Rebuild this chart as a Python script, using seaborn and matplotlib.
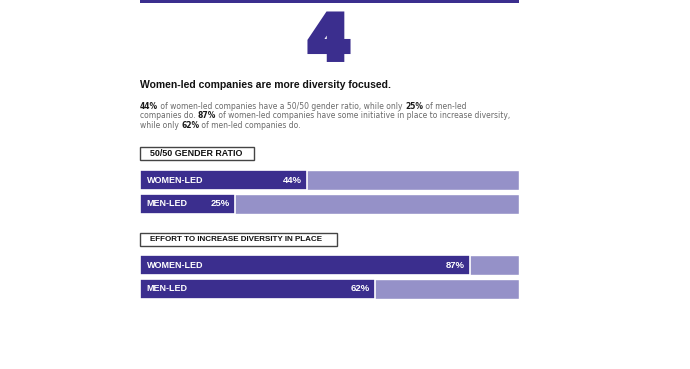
import matplotlib
matplotlib.use("Agg")
import matplotlib.pyplot as plt
import matplotlib.patheffects as pe
import seaborn as sns
import pandas as pd
from matplotlib.patches import Rectangle

sns.set_theme(style="white")
plt.rcParams['font.family'] = ['Liberation Sans', 'DejaVu Sans']

# ---- data ----
groups = ["WOMEN-LED", "MEN-LED"]
gender_ratio = [44, 25]
diversity_effort = [87, 62]
total = [100, 100]
section_titles = ["50/50 GENDER RATIO", "EFFORT TO INCREASE DIVERSITY IN PLACE"]
big_number = "4"
headline = "Women-led companies are more diversity focused."
para_lines = [
    [("44%", True), (" of women-led companies have a 50/50 gender ratio, while only ", False), ("25%", True), (" of men-led", False)],
    [("companies do. ", False), ("87%", True), (" of women-led companies have some initiative in place to increase diversity,", False)],
    [("while only ", False), ("62%", True), (" of men-led companies do.", False)],
]

DARK = "#3b2e8e"
LIGHT = "#9591c8"
W, H = 690, 369
fig = plt.figure(figsize=(W / 100, H / 100), dpi=100)
fig.patch.set_facecolor("white")
renderer = fig.canvas.get_renderer()


def fit(t, target_w):
    """Scale a text's font size so that it spans target_w pixels."""
    bb = t.get_window_extent(renderer=renderer)
    t.set_fontsize(t.get_fontsize() * target_w / bb.width)
    return t


# overlay axes in pixel coordinates
ov = fig.add_axes([0, 0, 1, 1])
ov.set_xlim(0, W)
ov.set_ylim(H, 0)
ov.axis("off")

# top rule
ov.add_patch(Rectangle((140, 0), 379, 2.5, color=DARK, lw=0))
# big number
ov.text(329, 58.5, big_number, ha="center", va="baseline", fontsize=43,
        fontweight="bold", color=DARK, family="DejaVu Sans",
        path_effects=[pe.Stroke(linewidth=5, foreground=DARK, joinstyle="miter"),
                      pe.Normal()])
# headline
fit(ov.text(140, 85, headline, ha="left", va="center", fontsize=8,
            fontweight="bold", color="#111111"), 253)

# paragraph with inline bold
ys = [106.5, 116, 125.5]
para_fs = 6.0
chains = []
for y, pieces in zip(ys, para_lines):
    prev = None
    arts = []
    for txt, bold in pieces:
        kw = dict(fontsize=para_fs, color="#1a1a1a" if bold else "#6a6a6a",
                  fontweight="bold" if bold else "normal", va="center", ha="left",
                  family="DejaVu Sans")
        if prev is None:
            prev = ov.text(140, y, txt, **kw)
        else:
            prev = ov.annotate(txt, xy=(1, 0.5), xycoords=prev, **kw)
        arts.append(prev)
    chains.append(arts)
fig.canvas.draw()
line2 = chains[1]
x0 = line2[0].get_window_extent(renderer).x0
x1 = line2[-1].get_window_extent(renderer).x1
scale = 371 / (x1 - x0)
for arts in chains:
    for a in arts:
        a.set_fontsize(para_fs * scale)


def section(title, box_w, title_w, box_y, bar_top, values):
    ov.add_patch(Rectangle((140, box_y), box_w, 13, fc="white", ec="#444444", lw=1))
    fit(ov.text(150.5, box_y + 6.8, title, ha="left", va="center", fontsize=6.2,
                fontweight="bold", color="#111111"), title_w)
    ax = fig.add_axes([140 / W, 1 - (bar_top + 44) / H, 379 / W, 44 / H])
    df = pd.DataFrame({"group": groups, "value": values, "total": total})
    sns.barplot(data=df, x="total", y="group", color=LIGHT, width=0.833,
                saturation=1, ax=ax, orient="h")
    sns.barplot(data=df, x="value", y="group", color=DARK, width=0.833,
                saturation=1, ax=ax, orient="h", edgecolor="white", linewidth=1.2)
    ax.set_xlim(0, 100)
    ax.set_ylim(1.4167, -0.4167)
    ax.axis("off")
    for i, (g, v) in enumerate(zip(groups, values)):
        ax.text(1.8, i, g, ha="left", va="center", color="white", fontsize=6.5,
                fontweight="bold")
        ax.text(v - 1.4, i, f"{v}%", ha="right", va="center", color="white",
                fontsize=6.8, fontweight="bold")


section(section_titles[0], 114, 93, 147, 170, gender_ratio)
section(section_titles[1], 197, 174, 233, 255, diversity_effort)

fig.savefig("out.png", dpi=100, facecolor="white")
